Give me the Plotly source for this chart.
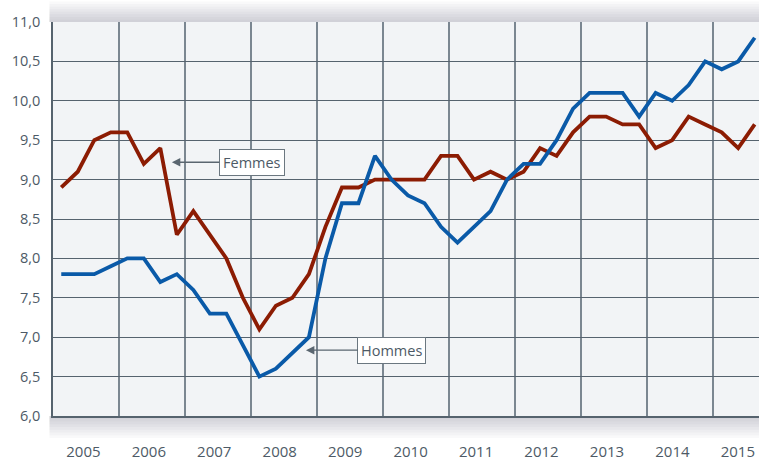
import plotly.graph_objects as go

years = list(range(2005, 2016))
year_labels = [str(y) for y in years]
# quarterly positions 2005Q1 .. 2015Q3
n_points = 43
x_quarters = [2005 + (i + 0.5) / 4 for i in range(n_points)]

femmes = [8.9, 9.1, 9.5, 9.6, 9.6, 9.2, 9.4, 8.3, 8.6, 8.3, 8.0, 7.5, 7.1, 7.4, 7.5, 7.8,
          8.4, 8.9, 8.9, 9.0, 9.0, 9.0, 9.0, 9.3, 9.3, 9.0, 9.1, 9.0, 9.1, 9.4, 9.3, 9.6,
          9.8, 9.8, 9.7, 9.7, 9.4, 9.5, 9.8, 9.7, 9.6, 9.4, 9.7]
hommes = [7.8, 7.8, 7.8, 7.9, 8.0, 8.0, 7.7, 7.8, 7.6, 7.3, 7.3, 6.9, 6.5, 6.6, 6.8, 7.0,
          8.0, 8.7, 8.7, 9.3, 9.0, 8.8, 8.7, 8.4, 8.2, 8.4, 8.6, 9.0, 9.2, 9.2, 9.5, 9.9,
          10.1, 10.1, 10.1, 9.8, 10.1, 10.0, 10.2, 10.5, 10.4, 10.5, 10.8]

y_ticks = [6.0, 6.5, 7.0, 7.5, 8.0, 8.5, 9.0, 9.5, 10.0, 10.5, 11.0]

# year labels sit slightly left of the year centres, drifting a little to the left
label_pos = [y + 0.46 - 0.009 * (y - 2005) for y in years]

text_color = "#4d5a66"
grid_color = "#56636e"

fig = go.Figure()
fig.add_trace(go.Scatter(x=x_quarters, y=femmes, mode="lines", name="Femmes",
                         line=dict(color="#8c1c03", width=3.8), showlegend=False,
                         hoverinfo="skip"))
fig.add_trace(go.Scatter(x=x_quarters, y=hommes, mode="lines", name="Hommes",
                         line=dict(color="#0a5aa8", width=3.8), showlegend=False,
                         hoverinfo="skip"))

# soft shadows around the plot panel
shapes = []
for k in range(8):
    op = 0.03
    shapes.append(dict(type="rect", xref="paper", yref="paper", layer="below",
                       x0=-0.005, x1=1.0, y0=1.0, y1=1.0 + (k + 1) * 0.0065,
                       fillcolor=f"rgba(60,70,80,{op})", line=dict(width=0)))
    shapes.append(dict(type="rect", xref="paper", yref="paper", layer="below",
                       x0=-0.005, x1=1.0, y0=-(k + 1) * 0.007, y1=0,
                       fillcolor=f"rgba(60,70,80,{op})", line=dict(width=0)))

fig.update_layout(
    width=759, height=461,
    margin=dict(l=53, r=0, t=22, b=43),
    paper_bgcolor="white",
    plot_bgcolor="#f2f4f6",
    separators=", ",
    font=dict(family="Open Sans, Noto Sans, sans-serif", size=14, color=text_color),
    shapes=shapes,
    xaxis=dict(
        range=[2005, 2015.69],
        tickmode="array",
        tickvals=label_pos,
        ticktext=year_labels,
        ticklabeloverflow="allow",
        showgrid=False,
        ticks="outside", ticklen=21, tickcolor="rgba(0,0,0,0)",
        showline=True, linecolor=grid_color, linewidth=1.5,
        zeroline=False,
        minor=dict(tickmode="array", tickvals=years[1:], showgrid=True,
                   gridcolor="#7b8791", gridwidth=1.5, ticks=""),
        tickfont=dict(size=15, color=text_color),
    ),
    yaxis=dict(
        range=[6.0, 11.0],
        tickmode="array",
        tickvals=y_ticks,
        tickformat=".1f",
        showgrid=True, gridcolor=grid_color, gridwidth=1.3,
        ticks="outside", ticklen=8, tickcolor="rgba(0,0,0,0)",
        showline=True, linecolor=grid_color, linewidth=1.5,
        zeroline=False,
        tickfont=dict(size=14.5, color=text_color),
    ),
    annotations=[
        dict(x=2006.8, y=9.22, xref="x", yref="y", text="Femmes",
             showarrow=True, ax=80, ay=0, arrowhead=2, arrowsize=1.3, arrowwidth=1.3,
             arrowcolor="#5a6670", bordercolor="#6b7780", borderwidth=1, borderpad=3,
             bgcolor="white", font=dict(size=14.5, color=text_color)),
        dict(x=2008.83, y=6.835, xref="x", yref="y", text="Hommes",
             showarrow=True, ax=86, ay=0, arrowhead=2, arrowsize=1.3, arrowwidth=1.3,
             arrowcolor="#5a6670", bordercolor="#6b7780", borderwidth=1, borderpad=3,
             bgcolor="white", font=dict(size=14.5, color=text_color)),
    ],
)

fig.write_html("out.html", config={"displayModeBar": False},
               post_script="document.body.style.margin='0';document.body.style.overflow='hidden';")
